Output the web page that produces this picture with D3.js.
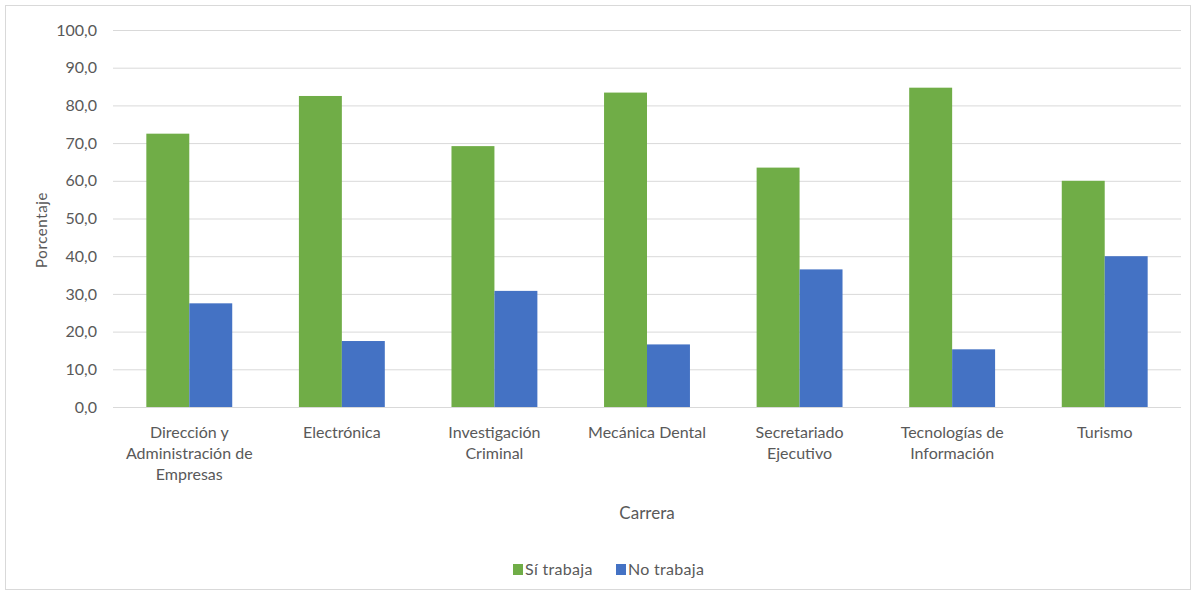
<!DOCTYPE html>
<html><head><meta charset="utf-8">
<script src="https://cdn.jsdelivr.net/npm/d3@7"></script>
<style>body{margin:0;background:#fff}svg{display:block}</style>
</head><body>
<svg id="c" width="1196" height="595"></svg>
<script>
const categories = [["Dirección y","Administración de","Empresas"],["Electrónica"],["Investigación","Criminal"],["Mecánica Dental"],["Secretariado","Ejecutivo"],["Tecnologías de","Información"],["Turismo"]];
const siTrabaja = [72.5, 82.5, 69.2, 83.4, 63.5, 84.7, 60.0];
const noTrabaja = [27.5, 17.5, 30.8, 16.6, 36.5, 15.3, 40.0];
const seriesNames = ["Sí trabaja","No trabaja"];
const colors = ["#70ad47","#4472c4"];
const yTicks = [0,10,20,30,40,50,60,70,80,90,100];

const svg = d3.select("#c");
const font = "Lato, 'Open Sans', sans-serif";
const txt = "#595959";
svg.append("rect").attr("x",5.5).attr("y",5.5).attr("width",1185).attr("height",584).attr("fill","#fff").attr("stroke","#d9d9d9");

const L=113, R=1181, T=30, B=407;
const x = d3.scaleBand().domain(d3.range(categories.length)).range([L,R]).paddingInner(0.437).paddingOuter(0.2185);
const y = d3.scaleLinear().domain([0,100]).range([B,T]);
const xs = d3.scaleBand().domain([0,1]).range([0,x.bandwidth()]);

const g = svg.append("g");
g.selectAll(".grid").data(yTicks).join("line")
  .attr("x1",L).attr("x2",R).attr("y1",d=>y(d)+0.5).attr("y2",d=>y(d)+0.5)
  .attr("stroke","#d9d9d9").attr("stroke-width",1);
g.selectAll(".yl").data(yTicks).join("text")
  .attr("x",97).attr("y",d=>y(d)).attr("dy","0.35em").attr("text-anchor","end")
  .attr("font-family",font).attr("font-size",16).attr("fill",txt)
  .text(d=>d3.format(".1f")(d).replace(".",","));
const data = [siTrabaja,noTrabaja];
data.forEach((vals,si)=>{
  g.selectAll(".b"+si).data(vals).join("rect")
    .attr("x",(d,i)=>x(i)+xs(si)).attr("width",xs.bandwidth())
    .attr("y",d=>y(d)).attr("height",d=>y(0)-y(d)).attr("fill",colors[si]);
});
categories.forEach((lines,i)=>{
  const t = g.append("text").attr("text-anchor","middle").attr("font-family",font).attr("font-size",16).attr("fill",txt);
  lines.forEach((ln,j)=>t.append("tspan").attr("x",x(i)+x.bandwidth()/2).attr("y",438+j*21).text(ln));
});
svg.append("text").attr("x",647).attr("y",519).attr("text-anchor","middle").attr("font-family",font).attr("font-size",17).attr("fill",txt).text("Carrera");
svg.append("text").attr("transform","translate(47,230) rotate(-90)").attr("text-anchor","middle").attr("font-family",font).attr("font-size",15).attr("letter-spacing","0.6px").attr("fill",txt).text("Porcentaje");
const leg = svg.append("g");
const lx=[513,616];
seriesNames.forEach((n,i)=>{
  leg.append("rect").attr("x",lx[i]).attr("y",564).attr("width",10).attr("height",11).attr("fill",colors[i]);
  leg.append("text").attr("x",lx[i]+12).attr("y",569).attr("dy","0.35em").attr("font-family",font).attr("font-size",16).attr("letter-spacing","0.3px").attr("fill",txt).text(n);
});
</script>
</body></html>
